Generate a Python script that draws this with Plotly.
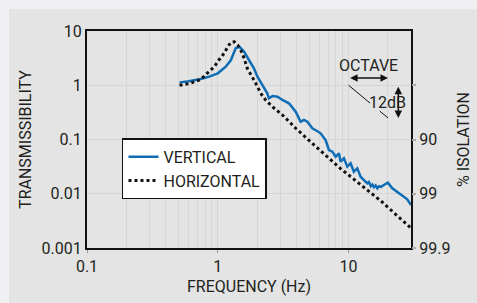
import math
import plotly.graph_objects as go

# ---------------- data ----------------
VERT_FREQ = [0.51, 0.6, 0.74, 0.86, 1.0, 1.15, 1.26, 1.37, 1.47, 1.59,
             1.73, 1.89, 2.01, 2.19, 2.39, 2.46, 2.62, 2.86, 3.12, 3.5,
             3.94, 4.3, 4.56, 4.84, 5.28, 5.7, 6.11, 6.67, 7.08, 7.51,
             7.96, 8.44, 8.69, 9.21, 9.77, 10.36, 10.97, 11.65, 12.35, 13.1,
             13.9, 14.3, 14.8, 15.2, 15.6, 16.1, 16.6, 17.1, 17.7, 18.6,
             19.95, 21.6, 23.5, 25.7, 28.1, 30.0]
VERT_T = [1.13, 1.18, 1.30, 1.44, 1.66, 2.2, 2.92, 4.8, 5.1, 4.15,
          2.92, 2.05, 1.44, 1.01, 0.71, 0.575, 0.634, 0.615, 0.535, 0.465,
          0.325, 0.213, 0.229, 0.213, 0.161, 0.145, 0.130, 0.098, 0.064, 0.0596,
          0.048, 0.0557, 0.039, 0.045, 0.0316, 0.0364, 0.0255, 0.0294, 0.0206, 0.0179,
          0.0156, 0.0165, 0.0138, 0.0148, 0.0132, 0.0142, 0.0126, 0.0138, 0.0134, 0.0145,
          0.016, 0.0126, 0.0109, 0.0095, 0.0079, 0.0062]

HORZ_FREQ = [0.51, 0.62, 0.74, 0.86, 0.94, 1.02, 1.12, 1.19, 1.26, 1.34,
             1.42, 1.5, 1.59, 1.68, 1.84, 1.95, 2.13, 2.32, 2.62, 3.12,
             3.94, 4.3, 6.11, 8.69, 12.35, 17.5, 29.6]
HORZ_T = [1.0, 1.09, 1.28, 1.78, 2.2, 2.92, 3.9, 5.1, 6.2, 6.3,
          5.5, 4.4, 3.14, 2.05, 1.44, 1.09, 0.71, 0.535, 0.40, 0.283,
          0.161, 0.134, 0.062, 0.029, 0.0146, 0.0075, 0.0024]

X_TICKS = [0.1, 1, 10]
X_TICK_TEXT = ["0.1", "1", "10"]
Y_TICKS = [0.001, 0.01, 0.1, 1, 10]
Y_TICK_TEXT = ["0.001", "0.01", "0.1", "1", "10"]
ISO_TICKS = [0.001, 0.01, 0.1, 1]
ISO_TICK_TEXT = ["99.9", "99", "90", ""]

# slope guide (12 dB / octave) annotation values
OCTAVE_F = [10, 20]
OCTAVE_T = 1.36
SLOPE_F = [10, 14.6, None, 17.3, 20]
SLOPE_T = [1.0, 0.469, None, 0.334, 0.25]
DB_F = 24.0
DB_T = [1.0, 0.25]

BLUE = "#0f6db5"
TXT = "#231f20"
GRID = "#d6d6d6"
FONT = "Roboto, Arial, sans-serif"

fig = go.Figure()

fig.add_trace(go.Scatter(x=VERT_FREQ, y=VERT_T, mode="lines", name="VERTICAL",
                         line=dict(color=BLUE, width=2.5)))
fig.add_trace(go.Scatter(x=HORZ_FREQ, y=HORZ_T, mode="lines", name="HORIZONTAL",
                         line=dict(color="#111111", width=3, dash="dot")))
fig.add_trace(go.Scatter(x=SLOPE_F, y=SLOPE_T, mode="lines", showlegend=False,
                         line=dict(color="#111111", width=1), hoverinfo="skip"))
# invisible trace to carry the right-hand isolation axis
fig.add_trace(go.Scatter(x=HORZ_FREQ, y=HORZ_T, yaxis="y2", mode="lines",
                         showlegend=False, hoverinfo="skip",
                         line=dict(color="rgba(0,0,0,0)", width=0)))

lg = math.log10
annotations = [
    dict(x=lg(OCTAVE_F[1]), y=lg(OCTAVE_T), ax=lg(OCTAVE_F[0]), ay=lg(OCTAVE_T),
         xref="x", yref="y", axref="x", ayref="y", text="", showarrow=True,
         arrowhead=2, startarrowhead=2, arrowside="end+start", arrowsize=1,
         startarrowsize=1, arrowwidth=1.5,
         arrowcolor="#111111", standoff=0, startstandoff=0),
    dict(x=lg(DB_F), y=lg(DB_T[1]), ax=lg(DB_F), ay=lg(DB_T[0]),
         xref="x", yref="y", axref="x", ayref="y", text="", showarrow=True,
         arrowhead=2, startarrowhead=2, arrowside="end+start", arrowsize=1,
         startarrowsize=1, arrowwidth=1.5,
         arrowcolor="#111111", standoff=0, startstandoff=0),
    dict(x=lg(14.2), y=lg(2.3), xref="x", yref="y", text="OCTAVE", showarrow=False,
         font=dict(family=FONT, size=16, color=TXT)),
    dict(x=lg(19.9), y=lg(0.49), xref="x", yref="y", text="12dB", showarrow=False,
         font=dict(family=FONT, size=16, color=TXT)),
]

fig.update_layout(
    width=477, height=303,
    margin=dict(l=87, r=66, t=31, b=55, autoexpand=False),
    paper_bgcolor="#f0f0f2",
    plot_bgcolor="white",
    font=dict(family=FONT, size=16, color=TXT),
    showlegend=True,
    legend=dict(x=0.108, y=0.505, xanchor="left", yanchor="top",
                bgcolor="white", bordercolor="#111111", borderwidth=1.5,
                font=dict(family=FONT, size=16, color=TXT),
                itemwidth=30, tracegroupgap=0),
    annotations=annotations,
    shapes=[dict(type="rect", xref="paper", yref="paper",
                 x0=-0.2407, x1=1.21, y0=-0.26, y1=1.101,
                 fillcolor="#e4e4e4", line=dict(width=0), layer="below")],
    xaxis=dict(type="log", range=[-1, lg(30)], tickvals=X_TICKS, ticktext=X_TICK_TEXT,
               showgrid=True, gridcolor=GRID, gridwidth=1, automargin=False,
               minor=dict(dtick="D1", showgrid=True, gridcolor=GRID, gridwidth=1,
                          ticks=""),
               ticks="outside", ticklen=3, tickcolor="#999999",
               showline=True, linecolor="#111111", linewidth=2, mirror=True,
               tickfont=dict(size=16), zeroline=False,
               title=dict(text="FREQUENCY (Hz)", standoff=6, font=dict(size=16))),
    yaxis=dict(type="log", range=[-3, 1], tickvals=Y_TICKS, ticktext=Y_TICK_TEXT,
               showgrid=True, gridcolor=GRID, gridwidth=1, automargin=False,
               ticks="",
               showline=True, linecolor="#111111", linewidth=2, mirror=True,
               tickfont=dict(size=16), zeroline=False,
               title=dict(text="TRANSMISSIBILITY", standoff=6, font=dict(size=16))),
    yaxis2=dict(type="log", range=[-3, 1], overlaying="y", side="right",
                tickvals=ISO_TICKS, ticktext=ISO_TICK_TEXT, showgrid=False,
                ticks="outside", ticklen=4, tickcolor="#aaaaaa", tickwidth=1.5,
                tickfont=dict(size=16), zeroline=False, showline=False, automargin=False,
                title=dict(text="% ISOLATION", standoff=8, font=dict(size=16))),
)

fig.write_html("out.html", config={"displayModeBar": False},
               post_script="document.body.style.margin='0px';document.body.style.overflow='hidden';")
